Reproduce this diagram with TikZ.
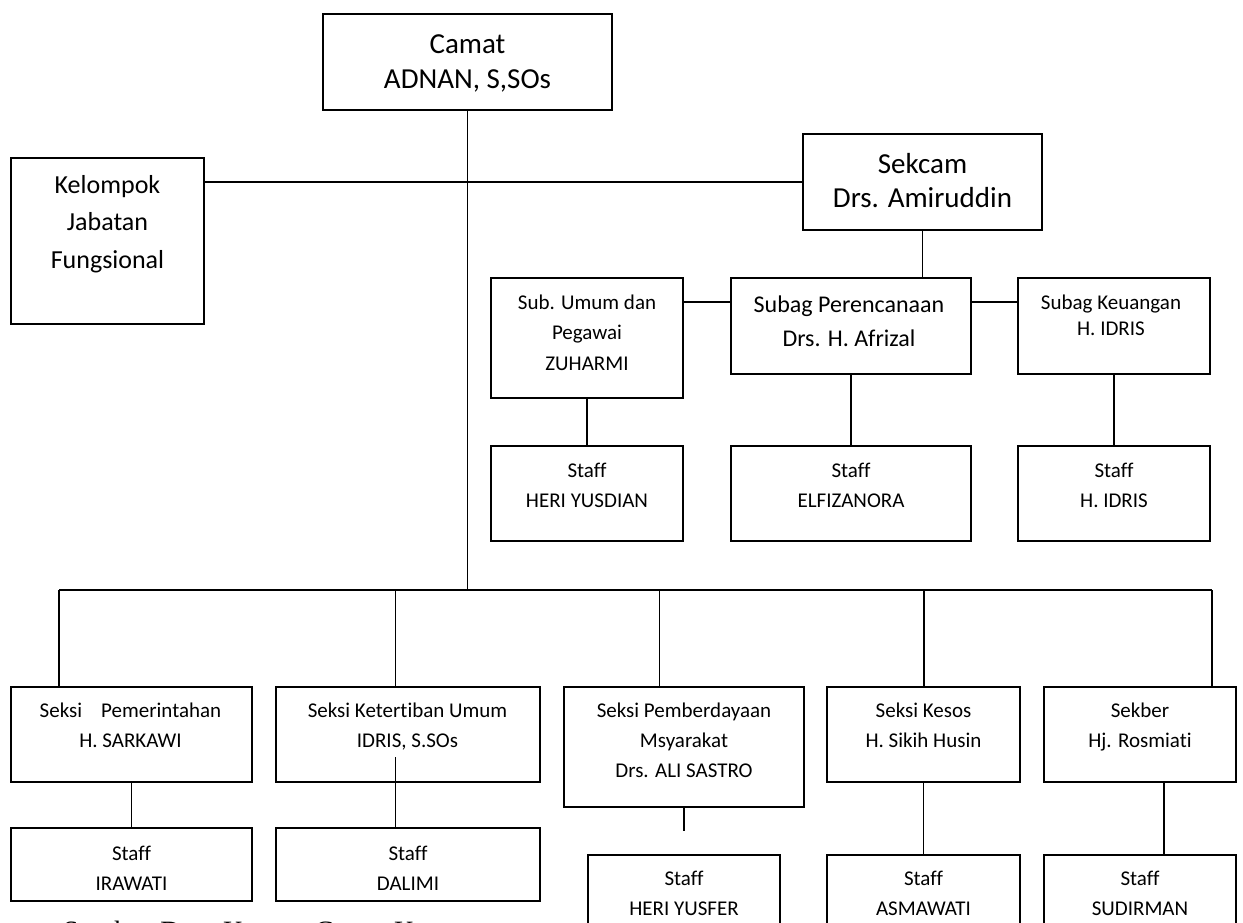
\documentclass[tikz,border=0pt]{standalone}
\usepackage{fontspec}
\setmainfont[Ligatures={NoCommon}]{Carlito}
\newfontfamily\srcfont{Liberation Serif}
\newcommand\bx[5]{\node[box, minimum width={(#4-#2)*1pt}, minimum height={(#5-#3)*1pt}] (#1) at ({(#2+#4)/2},{(#3+#5)/2}) {};}
\newcommand\tx[6]{\node[txt, font={\fontsize{#4}{#5}\selectfont}] (#1) at (#2,{#3-0.7*#5}) {\strut #6};}
\begin{document}
\begin{tikzpicture}[x=1pt,y=-1pt,
  box/.style={draw, line width=1.9pt, inner sep=0pt, fill=white},
  txt/.style={inner sep=0pt, align=center, anchor=north, text=black},
  conn/.style={draw, line width=1.7pt}]
\useasboundingbox (0,0) rectangle (1243,923);
\clip (0,0) rectangle (1243,923);

\coordinate (hy) at (0,302);
\coordinate (busy) at (0,590);
\coordinate (d1) at (59,590);
\coordinate (d2) at (395.4,590);
\coordinate (d3) at (659.5,590);
\coordinate (d4) at (923.8,590);
\coordinate (d5) at (1212,590);

% boxes
\bx{camat}{323}{14}{612}{110}
\bx{kel}{11}{158}{204}{324}
\bx{sekcam}{803}{134}{1042}{230}
\bx{subum}{491}{278}{683}{398}
\bx{subper}{731}{278}{971}{374}
\bx{subkeu}{1018}{278}{1210}{374}
\bx{st1}{491}{446}{683}{541}
\bx{st2}{731}{446}{971}{541}
\bx{st3}{1018}{446}{1210}{541}
\bx{s1}{11}{687}{252}{782}
\bx{s2}{276}{687}{540}{782}
\bx{s3}{564}{687}{804}{807}
\bx{s4}{827}{687}{1020}{782}
\bx{s5}{1044}{687}{1236}{782}
\bx{t1}{11}{828}{252}{901}
\bx{t2}{276}{828}{540}{901}
\bx{t3}{588}{855}{780}{960}
\bx{t4}{827}{855}{1020}{960}
\bx{t5}{1044}{855}{1236}{960}

% connectors
\coordinate (mainbus) at (camat.south |- busy);
\path[conn] (camat.south) -- (mainbus);
\path[conn] (sekcam.west) -- (sekcam.west -| kel.east);
\path[conn] (sekcam.south) -- (sekcam.south |- subper.north);
\path[conn] (subum.east |- hy) -- (subper.west |- hy);
\path[conn] (subper.east |- hy) -- (subkeu.west |- hy);
\path[conn] (subum.south) -- (st1.north);
\path[conn] (subper.south) -- (st2.north);
\path[conn] (subkeu.south) -- (st3.north);
\path[conn] (d1) -- (d5);
\path[conn] (d1) -- (d1 |- s1.north);
\path[conn] (d2) -- (d2 |- s2.north);
\path[conn] (d3) -- (d3 |- s3.north);
\path[conn] (d4) -- (d4 |- s4.north);
\path[conn] (d5) -- (d5 |- s5.north);
\path[conn] (s1.south) -- (t1.north);
\coordinate (k2) at (395.4,757);
\path[conn] (k2) -- (k2 |- t2.north);
\coordinate (k3) at (s3.south |- 0,831);
\path[conn] (s3.south) -- (k3);
\path[conn] (s4.south) -- (t4.north);
\coordinate (k5) at (1164,782);
\path[conn] (k5) -- (k5 |- t5.north);

% texts
\tx{camatT}{467.5}{53}{29}{35}{Camat\\ADNAN, S,SOs}
\tx{kelT}{107.5}{193}{26}{37.5}{Kelompok\\Jabatan\\Fungsional}
\tx{sekcamT}{922.5}{173}{29}{34}{Sekcam\\Drs. Amiruddin}
\tx{subumT}{587}{309}{21}{30.5}{Sub. Umum dan\\Pegawai\\ZUHARMI}
\tx{subperT}{849}{312}{24}{34}{Subag Perencanaan\\Drs. H. Afrizal}
\tx{subkeuT}{1111}{309}{21}{26}{Subag Keuangan\\H. IDRIS}
\tx{st1T}{587}{477}{21}{30}{Staff\\HERI YUSDIAN}
\tx{st2T}{851}{477}{21}{30}{Staff\\ELFIZANORA}
\tx{st3T}{1114}{477}{21}{30}{Staff\\H. IDRIS}
\tx{s1T}{130.5}{717}{21}{30}{Seksi\hspace{19pt}Pemerintahan\\H. SARKAWI}
\tx{s2T}{407.5}{717}{21}{30}{Seksi Ketertiban Umum\\IDRIS, S.SOs}
\tx{s3T}{684}{717}{21}{30}{Seksi Pemberdayaan\\Msyarakat\\Drs. ALI SASTRO}
\tx{s4T}{923.5}{717}{21}{30}{Seksi Kesos\\H. Sikih Husin}
\tx{s5T}{1140}{717}{21}{30}{Sekber\\Hj. Rosmiati}
\tx{t1T}{131.5}{860}{21}{30}{Staff\\IRAWATI}
\tx{t2T}{408}{860}{21}{30}{Staff\\DALIMI}
\tx{t3T}{684}{885}{21}{30}{Staff\\HERI YUSFER}
\tx{t4T}{923.5}{885}{21}{30}{Staff\\ASMAWATI}
\tx{t5T}{1140}{885}{21}{30}{Staff\\SUDIRMAN}

\node[anchor=base west, inner sep=0pt, font={\srcfont\fontsize{28}{34}\selectfont}] (src) at (63,940) {Sumber\hspace{10pt}Data\hspace{10pt}Kantor\hspace{14pt}Camat\hspace{6pt}K};
\end{tikzpicture}
\end{document}
